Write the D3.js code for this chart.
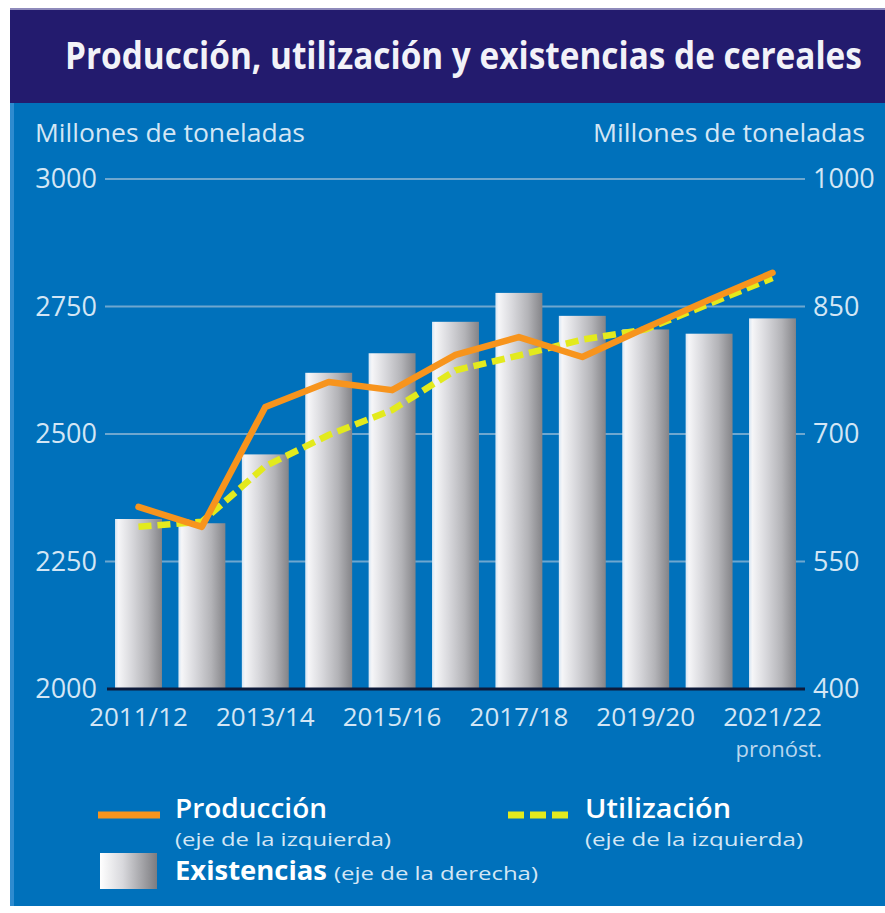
<!DOCTYPE html>
<html>
<head>
<meta charset="utf-8">
<script src="https://cdn.jsdelivr.net/npm/d3@7"></script>
<style>
  html, body { margin: 0; padding: 0; background: #ffffff; }
  svg { display: block; font-family: "Open Sans", "DejaVu Sans", sans-serif; }
</style>
</head>
<body>
<svg id="chart" width="885" height="913"></svg>
<script>
// chart data
var years = ["2011/12", "2012/13", "2013/14", "2014/15", "2015/16", "2016/17",
             "2017/18", "2018/19", "2019/20", "2020/21", "2021/22"];
var production = [2357, 2318, 2553, 2602, 2586, 2655, 2690, 2651, 2708, 2763, 2816];
var utilization = [2318, 2328, 2437, 2498, 2547, 2625, 2654, 2685, 2705, 2755, 2806];
var stocks = [600, 595, 676, 772, 795, 832, 866, 839, 823, 818, 836];
var leftTicks = [2000, 2250, 2500, 2750, 3000];
var rightTicks = [400, 550, 700, 850, 1000];
var yearLabels = ["2011/12", "2013/14", "2015/16", "2017/18", "2019/20", "2021/22"];

var svg = d3.select("#chart");

var navy = "#231b6e",
    blue = "#0071bb",
    pale = "#d3e6f5",
    orange = "#f7941d",
    yellow = "#e3ea1d";

//
// frame: title band and blue panel
//
svg.append("rect").attr("x", 10).attr("y", 8).attr("width", 875).attr("height", 3)
  .attr("fill", "#8e8abb");
svg.append("rect").attr("x", 10).attr("y", 10).attr("width", 875).attr("height", 93)
  .attr("fill", navy);
svg.append("rect").attr("x", 10).attr("y", 103).attr("width", 875).attr("height", 803)
  .attr("fill", blue);
svg.append("rect").attr("x", 10).attr("y", 103).attr("width", 4).attr("height", 803)
  .attr("fill", "#2e8bcf");

// title, squeezed horizontally to look condensed
var title = svg.append("text")
  .attr("font-size", 37).attr("font-weight", 700)
  .attr("fill", "#f2f2f8")
  .text("Producción, utilización y existencias de cereales");
var tw = title.node().getComputedTextLength();
title.attr("transform", "translate(65,69) scale(" + (797 / tw) + ",1)");

//
// scales
//
var x = d3.scaleBand()
  .domain(years)
  .range([106.8, 804.2])
  .paddingInner(0.26)
  .paddingOuter(0.13);

var yLeft = d3.scaleLinear().domain([2000, 3000]).range([689, 179]);
var yRight = d3.scaleLinear().domain([400, 1000]).range([689, 179]);

// bar gradient, light on the left, grey on the right
var defs = svg.append("defs");
var grad = defs.append("linearGradient").attr("id", "barGrad")
  .attr("x1", "0%").attr("x2", "100%").attr("y1", "0%").attr("y2", "0%");
[["0%", "#d6e6f4"], ["7%", "#f6f6f8"], ["35%", "#d9d9dd"], ["70%", "#b3b3b7"], ["100%", "#848488"]]
  .forEach(function (s) {
    grad.append("stop").attr("offset", s[0]).attr("stop-color", s[1]);
  });
var legGrad = defs.append("linearGradient").attr("id", "legGrad")
  .attr("x1", "0%").attr("x2", "100%").attr("y1", "0%").attr("y2", "0%");
[["0%", "#ffffff"], ["40%", "#d8d8dc"], ["100%", "#7c7c80"]]
  .forEach(function (s) {
    legGrad.append("stop").attr("offset", s[0]).attr("stop-color", s[1]);
  });

//
// gridlines (behind the bars)
//
svg.append("g")
  .selectAll("line")
  .data(leftTicks.filter(function (d) { return d > 2000; }))
  .join("line")
  .attr("x1", 105).attr("x2", 805)
  .attr("y1", function (d) { return yLeft(d); })
  .attr("y2", function (d) { return yLeft(d); })
  .attr("stroke", "#6ea7cf")
  .attr("stroke-width", 2);

//
// stocks bars on the right axis
//
svg.append("g")
  .selectAll("rect")
  .data(stocks)
  .join("rect")
  .attr("x", function (d, i) { return x(years[i]); })
  .attr("y", function (d) { return yRight(d); })
  .attr("width", x.bandwidth())
  .attr("height", function (d) { return yRight(400) - yRight(d); })
  .attr("fill", "url(#barGrad)");

// baseline
svg.append("line")
  .attr("x1", 107).attr("x2", 805)
  .attr("y1", yLeft(2000)).attr("y2", yLeft(2000))
  .attr("stroke", "#0d1a3a").attr("stroke-width", 3);

//
// axes
//
var leftAxis = svg.append("g")
  .attr("transform", "translate(97,0)")
  .call(d3.axisLeft(yLeft).tickValues(leftTicks).tickSize(0).tickPadding(0).tickFormat(d3.format("d")));
var rightAxis = svg.append("g")
  .attr("transform", "translate(813,0)")
  .call(d3.axisRight(yRight).tickValues(rightTicks).tickSize(0).tickPadding(0).tickFormat(d3.format("d")));
[leftAxis, rightAxis].forEach(function (a) {
  a.select(".domain").remove();
  a.selectAll("text")
    .attr("font-family", "'Open Sans', sans-serif")
    .attr("font-size", 27)
    .attr("fill", pale);
});

var bottomAxis = svg.append("g")
  .attr("transform", "translate(0,708)")
  .call(d3.axisBottom(x).tickValues(yearLabels).tickSize(0).tickPadding(0));
bottomAxis.select(".domain").remove();
bottomAxis.selectAll("text")
  .attr("font-family", "'Open Sans', sans-serif")
  .attr("font-size", 26)
  .attr("fill", pale)
  .attr("dy", "0.71em");

svg.append("text")
  .attr("x", 822).attr("y", 757)
  .attr("text-anchor", "end")
  .attr("font-size", 22)
  .attr("fill", "#b9d6ee")
  .text("pronóst.");

// axis titles
svg.append("text")
  .attr("x", 35).attr("y", 142)
  .attr("textLength", 270).attr("lengthAdjust", "spacingAndGlyphs")
  .attr("font-size", 25).attr("fill", pale)
  .text("Millones de toneladas");
svg.append("text")
  .attr("x", 593).attr("y", 142)
  .attr("textLength", 272).attr("lengthAdjust", "spacingAndGlyphs")
  .attr("font-size", 25).attr("fill", pale)
  .text("Millones de toneladas");

//
// lines on the left axis
//
var line = d3.line()
  .x(function (d, i) { return x(years[i]) + x.bandwidth() / 2; })
  .y(function (d) { return yLeft(d); });

svg.append("path")
  .datum(utilization)
  .attr("d", line)
  .attr("fill", "none")
  .attr("stroke", yellow)
  .attr("stroke-width", 6.5)
  .attr("stroke-dasharray", "13,6");

svg.append("path")
  .datum(production)
  .attr("d", line)
  .attr("fill", "none")
  .attr("stroke", orange)
  .attr("stroke-width", 6.5)
  .attr("stroke-linejoin", "round")
  .attr("stroke-linecap", "round");

//
// legend
//
var legend = svg.append("g");

legend.append("line")
  .attr("x1", 98).attr("x2", 160).attr("y1", 815).attr("y2", 815)
  .attr("stroke", orange).attr("stroke-width", 7);
legend.append("text")
  .attr("x", 175).attr("y", 818)
  .attr("font-size", 27).attr("font-weight", 600).attr("fill", "#ffffff")
  .attr("textLength", 152).attr("lengthAdjust", "spacingAndGlyphs")
  .text("Producción");
legend.append("text")
  .attr("x", 175).attr("y", 846)
  .attr("font-size", 18).attr("fill", pale)
  .attr("textLength", 216).attr("lengthAdjust", "spacingAndGlyphs")
  .text("(eje de la izquierda)");

legend.append("line")
  .attr("x1", 508).attr("x2", 568).attr("y1", 815).attr("y2", 815)
  .attr("stroke", yellow).attr("stroke-width", 7)
  .attr("stroke-dasharray", "16,6");
legend.append("text")
  .attr("x", 585).attr("y", 818)
  .attr("font-size", 27).attr("font-weight", 600).attr("fill", "#ffffff")
  .attr("textLength", 146).attr("lengthAdjust", "spacingAndGlyphs")
  .text("Utilización");
legend.append("text")
  .attr("x", 585).attr("y", 846)
  .attr("font-size", 18).attr("fill", pale)
  .attr("textLength", 218).attr("lengthAdjust", "spacingAndGlyphs")
  .text("(eje de la izquierda)");

legend.append("rect")
  .attr("x", 100).attr("y", 853).attr("width", 57).attr("height", 36)
  .attr("fill", "url(#legGrad)");
legend.append("text")
  .attr("x", 175).attr("y", 880)
  .attr("font-size", 27).attr("font-weight", 700).attr("fill", "#ffffff")
  .attr("textLength", 152).attr("lengthAdjust", "spacingAndGlyphs")
  .text("Existencias");
legend.append("text")
  .attr("x", 334).attr("y", 880)
  .attr("font-size", 19).attr("fill", pale)
  .attr("textLength", 204).attr("lengthAdjust", "spacingAndGlyphs")
  .text("(eje de la derecha)");
</script>
</body>
</html>
